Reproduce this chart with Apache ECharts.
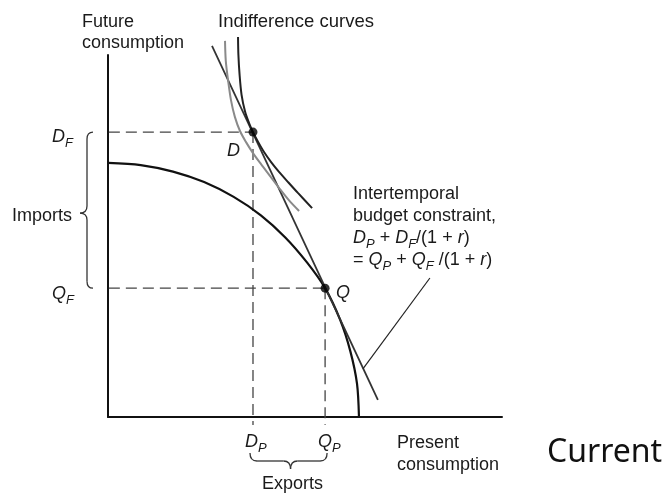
<!DOCTYPE html>
<html>
<head>
<meta charset="utf-8">
<script src="https://cdn.jsdelivr.net/npm/echarts@6/dist/echarts.min.js"></script>
<style>
  html, body { margin: 0; padding: 0; background: #fff; }
  #chart { width: 667px; height: 497px; }
</style>
</head>
<body>
<div id="chart"></div>
<script>
  // values, axes run 0..100 on both sides
  let ppfX = [0, 8.3, 16.5, 24.4, 31.9, 38.8, 45.0, 50.5, 55.1, 58.9, 61.5, 63.2, 63.7]
  let ppfY = [70.2, 69.6, 67.8, 64.9, 60.8, 55.7, 49.6, 42.7, 35.6, 26.9, 18.2, 9.2, 0]
  let budgetX = [26.4, 68.5]
  let budgetY = [102.5, 4.7]
  let icHighX = [33.0, 33.1, 33.4, 33.9, 34.8, 35.8, 36.8, 38.1, 39.6, 41.4, 43.4, 45.7, 48.2, 51.8]
  let icHighY = [105.0, 100.0, 94.5, 89.0, 84.3, 81.2, 78.7, 76.0, 73.2, 70.4, 67.7, 64.9, 61.9, 57.7]
  let icLowX = [29.7, 29.9, 30.5, 31.2, 32.2, 33.5, 35.0, 36.8, 38.8, 41.1, 43.4, 45.9, 48.5]
  let icLowY = [103.9, 98.3, 92.8, 87.6, 82.9, 79.0, 76.0, 72.9, 69.9, 66.6, 63.3, 59.9, 56.9]
  let leaderX = [81.7, 64.7]
  let leaderY = [38.4, 13.3]
  let pointD = [36.8, 78.7]
  let pointQ = [55.1, 35.6]

  let zip = (xs, ys) => xs.map((x, i) => [x, ys[i]])
  let font = '"Liberation Sans", Arial, sans-serif'
  let ink = '#1a1a1a'

  let dashStyle = { color: '#444', width: 1.3, type: [11, 6] }
  let dashLine = (data) => ({
    type: 'line', data: data, symbol: 'none', clip: false, silent: true,
    lineStyle: dashStyle, z: 1
  })
  let curve = (data, color, width, smooth) => ({
    type: 'line', data: data, symbol: 'none', clip: false, silent: true,
    smooth: smooth, lineStyle: { color: color, width: width }, z: 3
  })

  let option = {
    animation: false,
    grid: { left: 108, right: 165, top: 55, bottom: 80 },
    xAxis: {
      type: 'value', min: 0, max: 100,
      axisLine: { show: true, onZero: false, lineStyle: { color: '#111', width: 2 } },
      axisTick: { show: false }, axisLabel: { show: false }, splitLine: { show: false }
    },
    yAxis: {
      type: 'value', min: 0, max: 100,
      axisLine: { show: true, onZero: false, lineStyle: { color: '#111', width: 2 } },
      axisTick: { show: false }, axisLabel: { show: false }, splitLine: { show: false }
    },
    series: [
      dashLine([[-4.1, pointD[1]], pointD]),
      dashLine([pointD, [pointD[0], -2.2]]),
      dashLine([[-4.1, pointQ[1]], pointQ]),
      dashLine([pointQ, [pointQ[0], -2.2]]),
      curve(zip(ppfX, ppfY), '#111', 2.2, 0.3),
      curve(zip(budgetX, budgetY), '#333', 1.8, false),
      curve(zip(icLowX, icLowY), '#8a8a8a', 2, 0.3),
      curve(zip(icHighX, icHighY), '#222', 2, 0.3),
      curve(zip(leaderX, leaderY), '#222', 1.2, false),
      {
        type: 'scatter', data: [pointD, pointQ], symbolSize: 9, silent: true,
        itemStyle: { color: '#000' }, z: 5
      }
    ]
  }

  let chart = echarts.init(document.getElementById('chart'))
  chart.setOption(option)

  let rich = {
    n: { fontSize: 18, fontFamily: font, color: ink, lineHeight: 22 },
    i: { fontSize: 18, fontFamily: font, fontStyle: 'italic', color: ink, lineHeight: 22 },
    s: { fontSize: 13, fontFamily: font, fontStyle: 'italic', color: ink, lineHeight: 22, padding: [13, 0, 0, 0] }
  }
  let text = (str, x, y, extra) => ({
    type: 'text', silent: true,
    style: Object.assign({
      text: str, x: x, y: y, rich: rich, fontSize: 18, fontFamily: font,
      fill: ink, verticalAlign: 'middle', align: 'left'
    }, extra || {})
  })
  let braceStyle = { stroke: '#333', lineWidth: 1.3, fill: 'none' }
  let seg = (x1, y1, x2, y2) => ({ type: 'line', silent: true, shape: { x1, y1, x2, y2 }, style: braceStyle })
  let bend = (x1, y1, cx, cy, x2, y2) => ({
    type: 'bezierCurve', silent: true,
    shape: { x1, y1, x2, y2, cpx1: cx, cpy1: cy }, style: braceStyle
  })

  let d = chart.convertToPixel('grid', pointD)
  let q = chart.convertToPixel('grid', pointQ)

  // imports brace, left of the y axis
  let bx = 87, tip = 80, hook = 93
  let yT = d[1], yB = q[1], yM = (yT + yB) / 2 + 3
  let importsBrace = [
    bend(hook, yT, bx, yT, bx, yT + 7),
    seg(bx, yT + 7, bx, yM - 7),
    bend(bx, yM - 7, bx, yM, tip, yM),
    bend(tip, yM, bx, yM, bx, yM + 7),
    seg(bx, yM + 7, bx, yB - 7),
    bend(bx, yB - 7, bx, yB, hook, yB)
  ]
  // exports brace, under the x axis labels
  let xL = d[0] - 3, xR = q[0] + 2, xM = (xL + xR) / 2 + 2
  let eT = 453, eB = 461, eTip = 469
  let exportsBrace = [
    bend(xL, eT, xL, eB, xL + 7, eB),
    seg(xL + 7, eB, xM - 7, eB),
    bend(xM - 7, eB, xM, eB, xM, eTip),
    bend(xM, eTip, xM, eB, xM + 7, eB),
    seg(xM + 7, eB, xR - 7, eB),
    bend(xR - 7, eB, xR, eB, xR, eT)
  ]

  chart.setOption({
    graphic: importsBrace.concat(exportsBrace, [
      text('Future', 82, 22),
      text('consumption', 82, 43),
      text('Indifference curves', 218, 22, { fontSize: 18.5 }),
      text('{i|D}{s|F}', 52, 137),
      text('{i|Q}{s|F}', 52, 294),
      text('{i|D}', 227, 151),
      text('{i|Q}', 336, 293),
      text('Imports', 12, 216),
      text('{i|D}{s|P}', 245, 442),
      text('{i|Q}{s|P}', 318, 442),
      text('Exports', 262, 484),
      text('Present', 397, 443),
      text('consumption', 397, 465),
      text('Intertemporal', 353, 194),
      text('budget constraint,', 353, 216),
      text('{i|D}{s|P}{n| + }{i|D}{s|F}{n|/(1 + }{i|r}{n|)}', 353, 238),
      text('{n|= }{i|Q}{s|P}{n| + }{i|Q}{s|F}{n| /(1 + }{i|r}{n|)}', 353, 260),
      text('Current', 547, 453, { fontSize: 32, fontFamily: '"Noto Sans", sans-serif', fill: '#111' })
    ])
  })
</script>
</body>
</html>
